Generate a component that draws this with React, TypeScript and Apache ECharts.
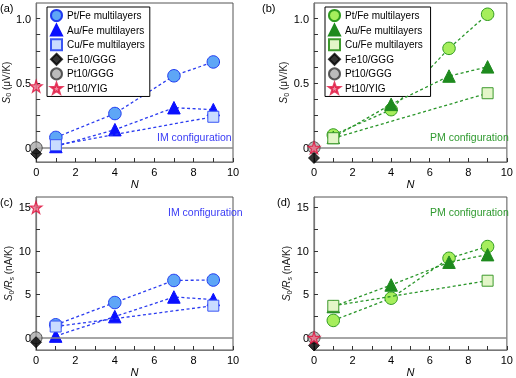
import React, { useEffect, useRef } from "react";
import * as echarts from "echarts";

const N_MULTI = [1, 4, 7, 9];
const N_CU = [1, 9];
const N_REF = 0;

const NAMES = ["Pt/Fe multilayers", "Au/Fe multilayers", "Cu/Fe multilayers", "Fe10/GGG", "Pt10/GGG", "Pt10/YIG"];

// (a) IM, S0 (μV/K)
const A_PtFe = [0.08, 0.265, 0.557, 0.664];
const A_AuFe = [0.01, 0.14, 0.31, 0.295];
const A_CuFe = [0.02, 0.24];
const A_Fe10GGG = -0.046;
const A_Pt10GGG = 0;
const A_Pt10YIG = 0.476;
// (b) PM, S0 (μV/K)
const B_PtFe = [0.099, 0.295, 0.769, 1.033];
const B_AuFe = [0.08, 0.336, 0.555, 0.626];
const B_CuFe = [0.074, 0.422];
const B_Fe10GGG = -0.079;
const B_Pt10GGG = 0;
const B_Pt10YIG = 0;
// (c) IM, S0/Rs (nA/K)
const C_PtFe = [1.5, 4.06, 6.6, 6.65];
const C_AuFe = [0.2, 2.44, 4.7, 4.4];
const C_CuFe = [1.3, 3.7];
const C_Fe10GGG = -0.5;
const C_Pt10GGG = 0;
const C_Pt10YIG = 15;
// (d) PM, S0/Rs (nA/K)
const D_PtFe = [2.0, 4.56, 9.15, 10.5];
const D_AuFe = [3.6, 6.08, 8.7, 9.57];
const D_CuFe = [3.68, 6.57];
const D_Fe10GGG = -0.87;
const D_Pt10GGG = 0;
const D_Pt10YIG = 0;

const Y_TICKS_TOP = [0, 0.5, 1.0];
const Y_TICKS_BOTTOM = [0, 5, 10, 15];
const X_TICKS = [0, 2, 4, 6, 8, 10];

const STAR = "path://M0,-10 L2.35,-3.24 9.51,-3.09 3.8,1.24 5.88,8.09 0,4 -5.88,8.09 -3.8,1.24 -9.51,-3.09 -2.35,-3.24Z";
const FONT = "Liberation Sans, Arial, sans-serif";

const BLUE = { circle: "#5ea6f6", circleEdge: "#1f3af0", tri: "#0a10ff", sqr: "#c9dcff", sqrEdge: "#3a55f5", line: "#2b3cf0" };
const GREEN = { circle: "#a6ee5c", circleEdge: "#2f9a1f", tri: "#1e8a1e", sqr: "#e3f6c8", sqrEdge: "#3d9a2d", line: "#2a962a" };

function pairs(xs: number[], ys: number[]) {
  return xs.map((x, i) => [x, ys[i]]);
}

function panelSeries(idx: number, col: any, suffix: string, pt: number[], au: number[], cu: number[], fe: number, ggg: number, yig: number) {
  const line = { color: col.line, width: 1.3, type: [3, 2.5] as any };
  const base = { xAxisIndex: idx, yAxisIndex: idx, animation: false };
  return [
    { ...base, type: "scatter", name: "zero" + idx, data: [], symbol: "none", silent: true,
      markLine: { silent: true, symbol: "none", label: { show: false }, lineStyle: { color: "#888", width: 1.6, type: "solid" }, data: [{ yAxis: 0 }] } },
    { ...base, type: "line", name: NAMES[0] + suffix, data: pairs(N_MULTI, pt), symbol: "circle", symbolSize: 12.5,
      lineStyle: line, itemStyle: { color: col.circle, borderColor: col.circleEdge, borderWidth: 1 }, z: 3 },
    { ...base, type: "line", name: NAMES[1] + suffix, data: pairs(N_MULTI, au), symbol: "triangle", symbolSize: 12.5,
      lineStyle: line, itemStyle: { color: col.tri, borderColor: col.tri, borderWidth: 1 }, z: 4 },
    { ...base, type: "line", name: NAMES[2] + suffix, data: pairs(N_CU, cu), symbol: "rect", symbolSize: 11,
      lineStyle: line, itemStyle: { color: col.sqr, borderColor: col.sqrEdge, borderWidth: 1 }, z: 5 },
    { ...base, type: "scatter", name: NAMES[4] + suffix, data: [[N_REF, ggg]], symbol: "circle", symbolSize: 12,
      itemStyle: { color: "#aaaaaa", borderColor: "#333", borderWidth: 1 }, z: 6 },
    { ...base, type: "scatter", name: NAMES[3] + suffix, data: [[N_REF, fe]], symbol: "diamond", symbolSize: 11,
      itemStyle: { color: "#000", borderColor: "#000", borderWidth: 1 }, z: 7 },
    { ...base, type: "scatter", name: NAMES[5] + suffix, data: [[N_REF, yig]], symbol: STAR, symbolSize: 12,
      itemStyle: { color: "#ee6e8a", borderColor: "#e0103c", borderWidth: 1.2 }, z: 8 },
  ];
}

export default function App() {
  const ref = useRef<HTMLDivElement>(null);
  useEffect(() => {
    const chart = echarts.init(ref.current!, null, { renderer: "svg" });
    const grids = [
      { left: 36, top: 3, width: 197, height: 159 },
      { left: 314, top: 3, width: 197, height: 159 },
      { left: 36, top: 197, width: 197, height: 155 },
      { left: 314, top: 197, width: 197, height: 155 },
    ].map((g) => ({ ...g, show: true, borderColor: "#555", borderWidth: 1, backgroundColor: "transparent" }));

    const xAxes = [0, 1, 2, 3].map((i) => ({
      type: "value", gridIndex: i, min: 0, max: 10, position: "bottom",
      name: "N", nameLocation: "middle", nameGap: 16,
      nameTextStyle: { fontStyle: "italic", fontSize: 11, fontFamily: FONT, color: "#000" },
      axisLine: { show: true, onZero: false, lineStyle: { color: "#777", width: 1.2 } },
      axisTick: { show: true, inside: true, length: 4, customValues: [0, 1, 2, 3, 4, 5, 6, 7, 8, 9, 10], lineStyle: { color: "#333" } },
      axisLabel: { customValues: X_TICKS, fontSize: 11, fontFamily: FONT, color: "#000", margin: 4 },
      splitLine: { show: false },
    }));

    const topTicks = [0, 0.125, 0.25, 0.375, 0.5, 0.625, 0.75, 0.875, 1.0];
    const botTicks = [0, 2.5, 5, 7.5, 10, 12.5, 15];
    const yName = (i: number) => (i < 2 ? "{i|S}{s|0} (μV/K)" : "{i|S}{s|0}{i|/R}{s|s} (nA/K)");
    const yAxes = [0, 1, 2, 3].map((i) => ({
      type: "value", gridIndex: i,
      min: i < 2 ? -0.11 : -1.4, max: i < 2 ? 1.12 : 16.2,
      name: yName(i), nameLocation: "middle", nameGap: i < 2 ? 20 : 18, nameRotate: 90,
      nameTextStyle: {
        fontSize: 10, fontFamily: FONT, color: "#222",
        rich: {
          i: { fontSize: 10, fontStyle: "italic", fontFamily: FONT, color: "#222" },
          s: { fontSize: 7, fontFamily: FONT, color: "#222", verticalAlign: "bottom", padding: [5, 0, 0, 0] },
        },
      },
      axisLine: { show: true, onZero: false, lineStyle: { color: "#777", width: 1.2 } },
      axisTick: { show: true, inside: true, length: 4, customValues: i < 2 ? topTicks : botTicks, lineStyle: { color: "#333" } },
      axisLabel: {
        customValues: i < 2 ? Y_TICKS_TOP : Y_TICKS_BOTTOM, fontSize: 11, fontFamily: FONT, color: "#000", margin: 5,
        formatter: (v: number) => (i < 2 ? (v === 0 ? "0" : v.toFixed(1)) : String(v)),
      },
      splitLine: { show: false },
    }));

    const legendFor = (left: number, suffix: string) => ({
      left, top: 7, orient: "vertical", itemWidth: 11, itemHeight: 11, itemGap: 1.6,
      backgroundColor: "#fff", borderColor: "#000", borderWidth: 1, borderRadius: 0, padding: [2, 5, 2, 3],
      textStyle: { fontSize: 10, fontFamily: FONT, color: "#000" },
      selectedMode: false,
      data: [
        { name: NAMES[0] + suffix, icon: "circle" },
        { name: NAMES[1] + suffix, icon: "triangle" },
        { name: NAMES[2] + suffix, icon: "rect" },
        { name: NAMES[3] + suffix, icon: "diamond" },
        { name: NAMES[4] + suffix, icon: "circle" },
        { name: NAMES[5] + suffix, icon: STAR },
      ],
    });

    const txt = (text: string, x: number, y: number, fill: string, size = 11) => ({
      type: "text", x, y, style: { text, fill, font: `${size}px ${FONT}` },
    });

    chart.setOption({
      animation: false,
      grid: grids,
      xAxis: xAxes,
      yAxis: yAxes,
      legend: [legendFor(47, ""), legendFor(325, " ")],
      series: [
        ...panelSeries(0, BLUE, "", A_PtFe, A_AuFe, A_CuFe, A_Fe10GGG, A_Pt10GGG, A_Pt10YIG),
        ...panelSeries(1, GREEN, " ", B_PtFe, B_AuFe, B_CuFe, B_Fe10GGG, B_Pt10GGG, B_Pt10YIG),
        ...panelSeries(2, BLUE, "", C_PtFe, C_AuFe, C_CuFe, C_Fe10GGG, C_Pt10GGG, C_Pt10YIG),
        ...panelSeries(3, GREEN, " ", D_PtFe, D_AuFe, D_CuFe, D_Fe10GGG, D_Pt10GGG, D_Pt10YIG),
      ],
      graphic: [
        txt("(a)", 0, 2, "#000", 11),
        txt("(b)", 262, 2, "#000", 11),
        txt("(c)", 0, 196, "#000", 11),
        txt("(d)", 277, 196, "#000", 11),
        txt("IM configuration", 157, 131, "#3a3cf5", 10.5),
        txt("PM configuration", 430, 131, "#2f9a2f", 10.5),
        txt("IM configuration", 168, 206, "#3a3cf5", 10.5),
        txt("PM configuration", 430, 206, "#2f9a2f", 10.5),
      ],
    });
    return () => chart.dispose();
  }, []);
  return <div ref={ref} style={{ position: "fixed", left: 0, top: 0, width: 516, height: 378 }} />;
}
